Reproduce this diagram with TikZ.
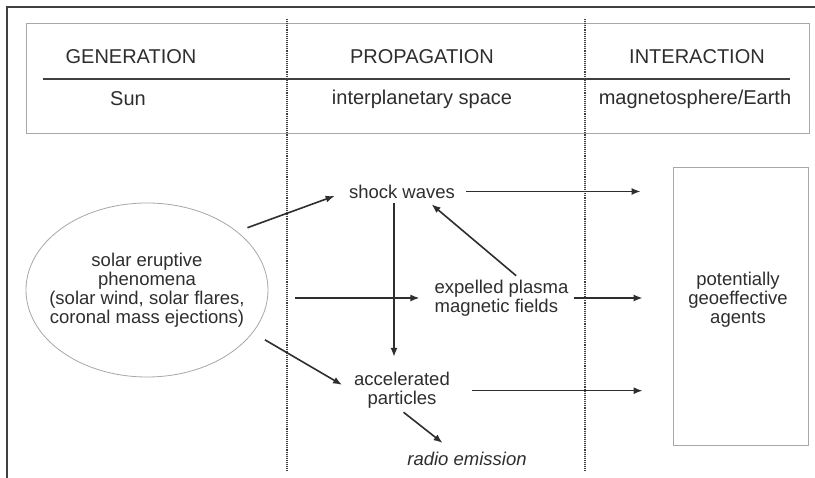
\documentclass[tikz,border=0pt]{standalone}
\usepackage{fontspec}
\setmainfont{Liberation Sans}
\usetikzlibrary{arrows.meta,shapes.geometric}
\definecolor{ink}{HTML}{2E2E2E}
\definecolor{framec}{HTML}{404040}
\definecolor{lightc}{HTML}{A8A8A8}
\begin{document}
\begin{tikzpicture}[x=1pt,y=-1pt,
  hdr/.style={font=\fontsize{20}{24}\selectfont, text=ink, anchor=base, inner sep=0pt},
  lbl/.style={font=\fontsize{18.5}{19}\selectfont, text=ink, inner sep=2pt},
  arr/.style={draw=ink, line width=1.6pt, -{Latex[length=9pt,width=7pt]}},
  sepline/.style={draw=framec, line width=1.1pt, densely dotted},
]
\useasboundingbox (0,0) rectangle (815,478);
\fill[white] (0,0) rectangle (815,478);
% outer frame
\draw[framec, line width=1.5pt] (7,478) -- (7,7) -- (815,7);
% header table
\draw[lightc, line width=0.8pt] (26,23) rectangle (809,133);
\draw[framec, line width=1.5pt] (43,79) -- (790,79);
\node[hdr] (hgen) at (131,64) {GENERATION};
\node[hdr] (hprop) at (422,64) {PROPAGATION};
\node[hdr] (hint) at (697,64) {INTERACTION};
\node[hdr] (hsun) at (128,106) {Sun};
\node[hdr] (hspace) at (422,105) {interplanetary space};
\node[hdr] (hearth) at (695,105) {magnetosphere/Earth};
% dotted separators
\draw[sepline] (287,19) -- (287,471);
\draw[sepline] (585,19) -- (585,471);
% nodes
\node[lbl, ellipse, draw=lightc, line width=0.8pt, inner xsep=-14pt, inner ysep=0pt,
      minimum width=242pt, minimum height=174pt, align=center] (ell) at (147,290)
  {solar eruptive\\phenomena\\(solar wind, solar flares,\\coronal mass ejections)};
\node[lbl] (shock) at (402,191.5) {shock waves};
\node[lbl, align=left] (expelled) at (501.5,298) {expelled plasma\\magnetic fields};
\node[lbl, align=center] (accel) at (402,390.7) {accelerated\\particles};
\node[lbl, anchor=base, font=\fontsize{18.5}{19}\selectfont\itshape] (radio) at (467,466) {radio emission};
\node[draw=lightc, line width=0.8pt, minimum width=135pt, minimum height=278pt, inner sep=0pt] (geo) at (740.5,306) {};
\node[lbl, align=center] (geotext) at (738,300) {potentially\\geoeffective\\agents};
% connectors
\draw[arr, shorten <=11pt, shorten >=13pt] (ell.33) -- (shock.west);
\draw[arr, shorten <=27pt, shorten >=13pt] (ell.east |- expelled.west) -- (expelled.west);
\draw[arr, shorten <=14pt, shorten >=11.5pt] (ell.-22) -- (accel.west);
\draw[arr, shorten <=9pt, shorten >=32pt] (shock.east) -- (shock.east -| geo.west);
\draw[arr, shorten <=3pt, shorten >=30pt] (expelled.east) -- (expelled.east -| geo.west);
\draw[arr, shorten <=20pt, shorten >=30pt] (accel.east) -- (accel.east -| geo.west);
\draw[arr, shorten <=3pt, shorten >=13.5pt] ([xshift=-8pt]shock.south) -- ([xshift=-8pt]accel.north);
\draw[arr, shorten <=3pt, shorten >=6pt] ([xshift=17pt]expelled.north) -- ([xshift=25pt]shock.south);
\draw[arr, shorten <=2pt, shorten >=12pt] (accel.south) -- ([xshift=-15pt]radio.north);
\end{tikzpicture}
\end{document}
